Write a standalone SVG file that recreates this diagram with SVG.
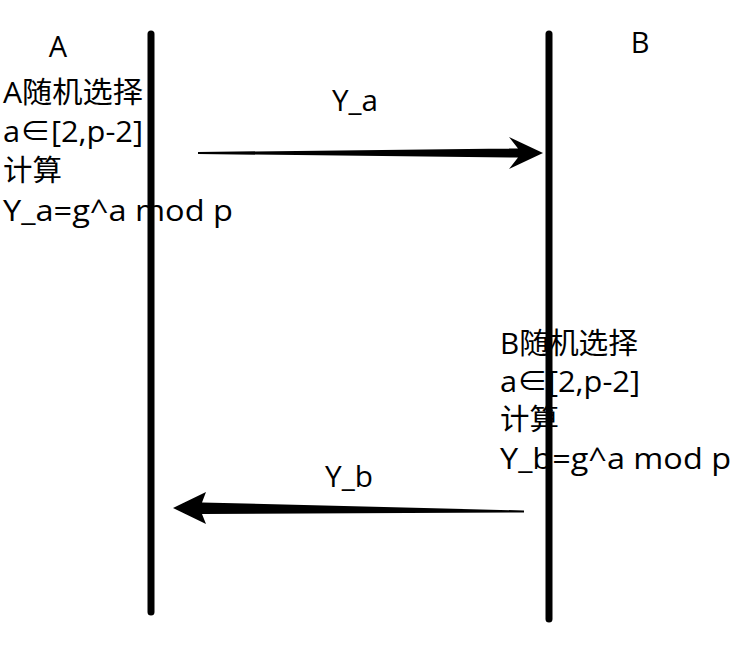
<svg xmlns="http://www.w3.org/2000/svg" width="744" height="665" viewBox="0 0 744 665">
<style>
.t{font-family:"Open Sans","Noto Sans CJK SC",sans-serif;font-size:29px;fill:#000}
.life{stroke:#000;stroke-width:7;stroke-linecap:round;fill:none}
</style>
<rect width="744" height="665" fill="#fff"/>
<g id="lifelineA"><line class="life" x1="151" y1="34" x2="151" y2="612"/><text class="t" x="58" y="57" text-anchor="middle">A</text></g>
<g id="lifelineB"><line class="life" x1="549" y1="34" x2="549" y2="619"/><text class="t" x="640" y="53" text-anchor="middle">B</text></g>
<g id="noteA">
<text class="t" x="3" y="103" textLength="140" lengthAdjust="spacingAndGlyphs">A随机选择</text>
<text class="t" x="3" y="142" textLength="140" lengthAdjust="spacingAndGlyphs">a∈[2,p-2]</text>
<text class="t" x="3" y="181" textLength="59" lengthAdjust="spacingAndGlyphs">计算</text>
<text class="t" x="3" y="221" textLength="230" lengthAdjust="spacingAndGlyphs">Y_a=g^a mod p</text>
</g>
<g id="noteB">
<text class="t" x="500" y="354" textLength="138" lengthAdjust="spacingAndGlyphs">B随机选择</text>
<text class="t" x="500" y="392" textLength="140" lengthAdjust="spacingAndGlyphs">a∈[2,p-2]</text>
<text class="t" x="500" y="430" textLength="59" lengthAdjust="spacingAndGlyphs">计算</text>
<text class="t" x="500" y="469" textLength="231" lengthAdjust="spacingAndGlyphs">Y_b=g^a mod p</text>
</g>
<g id="connectors">
<path d="M198,152 L518,148.5 L509,137 L543,153 L509,169 L518,157.5 L198,154 Z" fill="#000"/>
<text class="t" x="332" y="111" textLength="46" lengthAdjust="spacingAndGlyphs">Y_a</text>
<path d="M524,510.5 L202,502.5 L206,492 L173,508 L206,524 L202,514 L524,512.5 Z" fill="#000"/>
<text class="t" x="325" y="487" textLength="48" lengthAdjust="spacingAndGlyphs">Y_b</text>
</g>
</svg>
